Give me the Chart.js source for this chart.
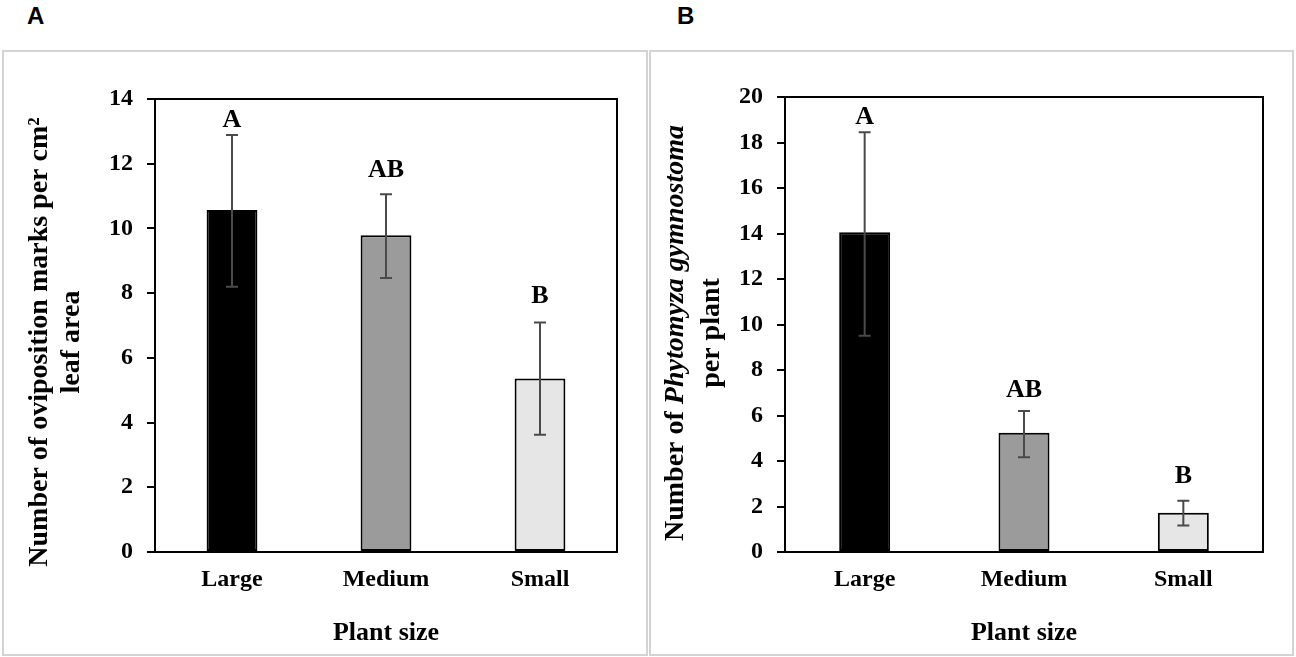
<!DOCTYPE html>
<html>
<head>
<meta charset="utf-8">
<script src="https://cdn.jsdelivr.net/npm/chart.js@4.4.1/dist/chart.umd.min.js"></script>
<style>
  html, body { margin: 0; padding: 0; background: #fff; }
  body { width: 1296px; height: 657px; position: relative; overflow: hidden; }
  .frame { position: absolute; box-sizing: border-box; border: 2px solid #d3d3d3; }
  .tag { position: absolute; font: bold 24px "Liberation Sans", Arial, sans-serif; line-height: 24px; color: #000; }
  canvas { position: absolute; top: 0; }
</style>
</head>
<body>
<div class="frame" style="left:2px; top:50px; width:646px; height:606px;"></div>
<div class="frame" style="left:649px; top:50px; width:645px; height:606px;"></div>
<div class="tag" style="left:27px; top:4px;">A</div>
<div class="tag" style="left:677px; top:4px;">B</div>
<canvas id="chartA" width="648" height="657" style="left:0;"></canvas>
<canvas id="chartB" width="648" height="657" style="left:648px;"></canvas>
<script>
const categories = ['Large', 'Medium', 'Small'];
const barColors = ['#000000', '#9b9b9b', '#e6e6e6'];

// panel A: oviposition marks per cm2
const marksMean = [10.57, 9.79, 5.36];
const marksLow = [8.2, 8.47, 3.62];
const marksHigh = [12.89, 11.06, 7.09];
const marksLetters = ['A', 'AB', 'B'];
const marksLetterAt = [13.35, 11.8, 7.9];

// panel B: P. gymnostoma per plant
const flyMean = [14.05, 5.24, 1.73];
const flyLow = [9.51, 4.16, 1.16];
const flyHigh = [18.45, 6.2, 2.25];
const flyLetters = ['A', 'AB', 'B'];
const flyLetterAt = [19.13, 7.12, 3.34];

const SERIF = '"Liberation Serif", "Times New Roman", serif';

// box round the plot area
const boxPlugin = {
  id: 'box',
  afterDraw(chart) {
    const {ctx, chartArea: a} = chart;
    ctx.save();
    ctx.strokeStyle = '#000';
    ctx.lineWidth = 2;
    ctx.strokeRect(a.left, a.top, a.right - a.left, a.bottom - a.top);
    ctx.restore();
  }
};

function extrasPlugin(p) {
  return {
    id: 'extras',
    afterDatasetsDraw(chart) {
      const ctx = chart.ctx;
      const y = chart.scales.y;
      const meta = chart.getDatasetMeta(0);
      ctx.save();
      // error bars
      ctx.strokeStyle = '#4a4a4a';
      ctx.lineWidth = 2;
      meta.data.forEach((bar, i) => {
        const yl = y.getPixelForValue(p.low[i]);
        const yh = y.getPixelForValue(p.high[i]);
        ctx.beginPath();
        ctx.moveTo(bar.x, yl); ctx.lineTo(bar.x, yh);
        ctx.moveTo(bar.x - 6, yl); ctx.lineTo(bar.x + 6, yl);
        ctx.moveTo(bar.x - 6, yh); ctx.lineTo(bar.x + 6, yh);
        ctx.stroke();
      });
      // significance letters
      ctx.fillStyle = '#000';
      ctx.font = 'bold 26px ' + SERIF;
      ctx.textAlign = 'center';
      ctx.textBaseline = 'middle';
      meta.data.forEach((bar, i) => {
        ctx.fillText(p.letters[i], bar.x, y.getPixelForValue(p.letterAt[i]));
      });
      ctx.restore();
    },
    afterDraw(chart) {
      const ctx = chart.ctx;
      const a = chart.chartArea;
      ctx.save();
      ctx.fillStyle = '#000';
      // x title
      ctx.font = 'bold 26px ' + SERIF;
      ctx.textAlign = 'center';
      ctx.textBaseline = 'middle';
      ctx.fillText('Plant size', (a.left + a.right) / 2, 633);
      // y title, rotated, lines of mixed segments
      ctx.translate(0, p.titleY);
      ctx.rotate(-Math.PI / 2);
      ctx.textAlign = 'left';
      p.titleLines.forEach((line, li) => {
        let total = 0;
        line.forEach(seg => {
          ctx.font = (seg.italic ? 'italic ' : '') + 'bold 28px ' + SERIF;
          total += ctx.measureText(seg.text).width;
        });
        let x = -total / 2;
        line.forEach(seg => {
          ctx.font = (seg.italic ? 'italic ' : '') + 'bold 28px ' + SERIF;
          ctx.fillText(seg.text, x, p.titleX[li]);
          x += ctx.measureText(seg.text).width;
        });
      });
      ctx.restore();
    }
  };
}

function makePanel(id, p) {
  return new Chart(document.getElementById(id), {
    type: 'bar',
    data: {
      labels: categories,
      datasets: [{
        data: p.mean,
        backgroundColor: barColors,
        borderColor: '#000',
        borderWidth: 2,
        borderSkipped: false,
        categoryPercentage: 1,
        barPercentage: p.barPct
      }]
    },
    options: {
      responsive: false,
      animation: false,
      events: [],
      layout: {padding: {left: 0, top: p.top, right: p.right, bottom: 0}},
      plugins: {legend: {display: false}, tooltip: {enabled: false}},
      scales: {
        x: {
          grid: {display: false, drawTicks: false},
          border: {display: true, color: '#000', width: 2},
          ticks: {color: '#000', padding: 13, font: {family: SERIF, size: 24, weight: 'bold'}},
          afterFit: s => { s.height = 105; }
        },
        y: {
          min: 0,
          max: p.max,
          ticks: {stepSize: 2, color: '#000', padding: 14, font: {family: SERIF, size: 24, weight: 'bold'}},
          grid: {drawOnChartArea: false, drawTicks: true, tickLength: 8, color: '#000', lineWidth: 2},
          border: {display: true, color: '#000', width: 2},
          afterFit: s => { s.width = p.left; }
        }
      }
    },
    plugins: [boxPlugin, extrasPlugin(p)]
  });
}

makePanel('chartA', {
  mean: marksMean, low: marksLow, high: marksHigh,
  letters: marksLetters, letterAt: marksLetterAt,
  max: 14, left: 155, top: 99, right: 31, barPct: 0.33,
  titleY: 342, titleX: [40, 72],
  titleLines: [
    [{text: 'Number of oviposition marks per cm\u00b2'}],
    [{text: 'leaf area'}]
  ]
});

makePanel('chartB', {
  mean: flyMean, low: flyLow, high: flyHigh,
  letters: flyLetters, letterAt: flyLetterAt,
  max: 20, left: 137, top: 97, right: 33, barPct: 0.32,
  titleY: 333, titleX: [28, 64],
  titleLines: [
    [{text: 'Number of '}, {text: 'Phytomyza gymnostoma', italic: true}],
    [{text: 'per plant'}]
  ]
});
</script>
</body>
</html>
